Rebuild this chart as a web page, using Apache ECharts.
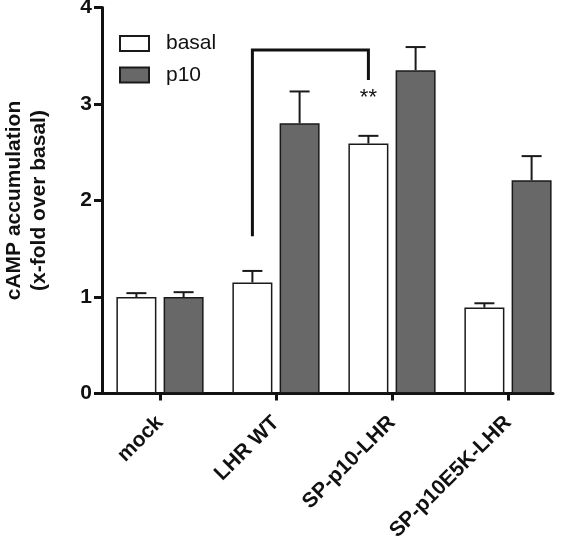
<!DOCTYPE html>
<html>
<head>
<meta charset="utf-8">
<script src="https://cdn.jsdelivr.net/npm/echarts@6/dist/echarts.min.js"></script>
<style>
html,body{margin:0;padding:0;background:#fff;}
#chart{width:566px;height:543px;}
</style>
</head>
<body>
<div id="chart"></div>
<script>
// ---- data ----
const categories = ['mock', 'LHR WT', 'SP-p10-LHR', 'SP-p10E5K-LHR'];
const basalValues = [1.00, 1.15, 2.59, 0.89];
const basalErrTop = [1.04, 1.27, 2.67, 0.935];
const p10Values = [1.00, 2.80, 3.35, 2.21];
const p10ErrTop = [1.05, 3.13, 3.59, 2.46];
const yTicks = [0, 1, 2, 3, 4];
// bracket: from category 1 basal to category 2 basal
const bracketFrom = 1, bracketTo = 2;
const bracketLeftBottom = 1.63, bracketTop = 3.56, bracketRightBottom = 3.25;
const starText = '**';
const starValue = 3.06;

// ---- style constants ----
const FONT = "'Liberation Sans', Arial, sans-serif";
const BAR_W = 40;
const GAP_RATIO = 0.18;
const OFFSET = BAR_W * (1 + GAP_RATIO) / 2;
const INK = '#111';

const chart = echarts.init(document.getElementById('chart'), null, {renderer: 'canvas'});

function errItem(sign) {
  return function (params, api) {
    const c = api.coord([api.value(0), api.value(1)]);
    const t = api.coord([api.value(0), api.value(2)]);
    const x = c[0] + sign * OFFSET;
    const st = {stroke: '#1a1a1a', lineWidth: 2};
    return {
      type: 'group',
      children: [
        {type: 'line', shape: {x1: x, y1: c[1], x2: x, y2: t[1]}, style: st},
        {type: 'line', shape: {x1: x - 10, y1: t[1], x2: x + 10, y2: t[1]}, style: st}
      ]
    };
  };
}

const option = {
  animation: false,
  backgroundColor: '#fff',
  grid: [
    {left: 102, right: 0, top: 7.5, bottom: 149.5, outerBoundsMode: 'none', containLabel: false},
    {left: 102, right: 13, top: 7.5, bottom: 149.5, outerBoundsMode: 'none', containLabel: false}
  ],
  legend: {
    orient: 'vertical',
    left: 114,
    top: 28,
    itemWidth: 29,
    itemHeight: 15,
    itemGap: 10.5,
    icon: 'rect',
    data: ['basal', 'p10'],
    textStyle: {fontFamily: FONT, fontSize: 21, color: INK, padding: [0, 0, 0, 12]}
  },
  xAxis: [
    {
      type: 'category',
      gridIndex: 0,
      data: categories,
      axisLine: {show: false},
      axisTick: {show: true, alignWithLabel: true, length: 7, lineStyle: {color: INK, width: 3}},
      axisLabel: {
        rotate: 45, margin: 26, color: INK, fontFamily: FONT, fontSize: 21, fontWeight: 'bold', interval: 0
      }
    },
    {
      type: 'value', gridIndex: 1, min: 0, max: 1,
      axisLine: {show: true, onZero: false, lineStyle: {color: INK, width: 3}},
      axisTick: {show: false}, axisLabel: {show: false}, splitLine: {show: false}
    }
  ],
  yAxis: [
    {
      type: 'value', gridIndex: 0, min: 0, max: 4, interval: 1,
      name: 'cAMP accumulation\n(x-fold over basal)',
      nameLocation: 'middle',
      nameGap: 50,
      nameRotate: 90,
      nameTextStyle: {fontFamily: FONT, fontSize: 21, fontWeight: 'bold', color: INK, lineHeight: 25},
      axisLine: {show: true, lineStyle: {color: INK, width: 3}},
      axisTick: {show: true, length: 8, lineStyle: {color: INK, width: 3}},
      axisLabel: {
        margin: 10, color: INK, fontFamily: FONT, fontSize: 21, fontWeight: 'bold',
        customValues: yTicks
      },
      splitLine: {show: false}
    },
    {
      type: 'value', gridIndex: 1, min: 0, max: 1, show: false
    }
  ],
  series: [
    {
      name: 'basal', type: 'bar', xAxisIndex: 0, yAxisIndex: 0,
      data: basalValues, barWidth: BAR_W, barGap: (GAP_RATIO * 100) + '%',
      itemStyle: {color: '#ffffff', borderColor: '#1a1a1a', borderWidth: 1.5}
    },
    {
      name: 'p10', type: 'bar', xAxisIndex: 0, yAxisIndex: 0,
      data: p10Values, barWidth: BAR_W, barGap: (GAP_RATIO * 100) + '%',
      itemStyle: {color: '#686868', borderColor: '#1a1a1a', borderWidth: 1.5}
    },
    {
      type: 'custom', xAxisIndex: 0, yAxisIndex: 0, z: 3,
      renderItem: errItem(-1),
      encode: {x: 0, y: 2},
      data: basalValues.map((v, i) => [i, v, basalErrTop[i]])
    },
    {
      type: 'custom', xAxisIndex: 0, yAxisIndex: 0, z: 3,
      renderItem: errItem(1),
      encode: {x: 0, y: 2},
      data: p10Values.map((v, i) => [i, v, p10ErrTop[i]])
    },
    {
      type: 'custom', xAxisIndex: 0, yAxisIndex: 0, z: 4,
      encode: {x: 0, y: 3},
      data: [[bracketFrom, bracketTo, bracketLeftBottom, bracketTop, bracketRightBottom, starValue]],
      renderItem: function (params, api) {
        const a = api.coord([api.value(0), api.value(2)]);
        const b = api.coord([api.value(0), api.value(3)]);
        const c = api.coord([api.value(1), api.value(3)]);
        const d = api.coord([api.value(1), api.value(4)]);
        const s = api.coord([api.value(1), api.value(5)]);
        const xa = a[0] - OFFSET, xc = c[0] - OFFSET;
        return {
          type: 'group',
          children: [
            {
              type: 'polyline',
              shape: {points: [[xa, a[1]], [xa, b[1]], [xc, c[1]], [xc, d[1]]]},
              style: {stroke: INK, lineWidth: 3, fill: null}
            },
            {
              type: 'text',
              x: xc, y: s[1],
              style: {text: starText, fontFamily: FONT, fontSize: 22, fill: INK, align: 'center', verticalAlign: 'middle'}
            }
          ]
        };
      }
    }
  ]
};
chart.setOption(option);
</script>
</body>
</html>
